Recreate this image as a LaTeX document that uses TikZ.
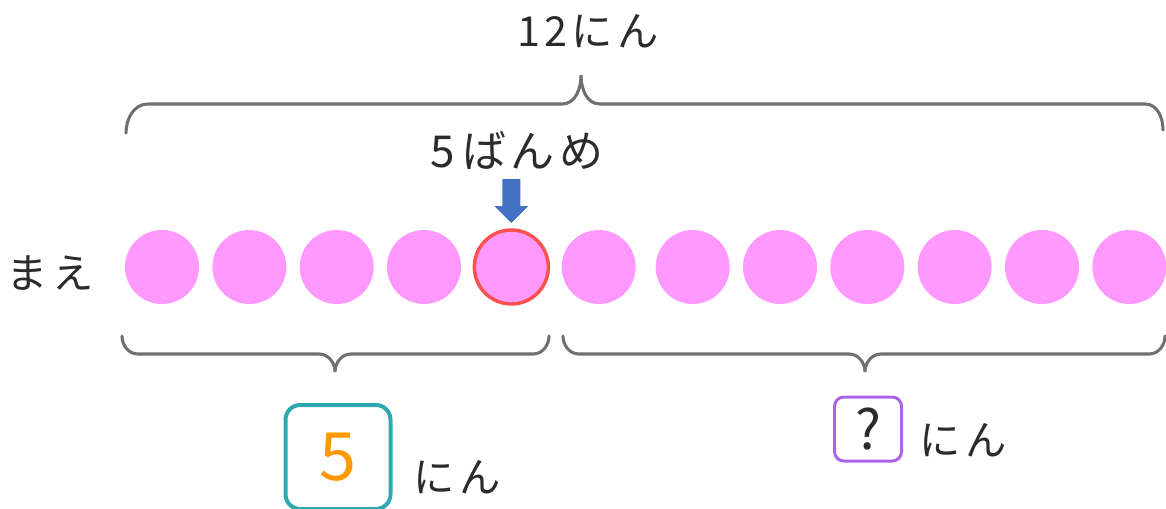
\documentclass[tikz,border=0pt]{standalone}
\usepackage{fontspec}
\setmainfont[LetterSpace=10]{Noto Sans CJK JP}
\usetikzlibrary{positioning, calc}
\definecolor{ink}{HTML}{2B2B2B}
\definecolor{ballpink}{HTML}{FF99FF}
\definecolor{markred}{HTML}{FF5050}
\definecolor{bracegray}{HTML}{707070}
\definecolor{pointblue}{HTML}{4472C4}
\definecolor{boxteal}{HTML}{2FA9B1}
\definecolor{boxpurple}{HTML}{AC63EA}
\definecolor{numorange}{HTML}{FF9900}
\tikzset{
  ball/.style={circle, fill=ballpink, minimum size=55.5pt, inner sep=0pt,
               outer sep=0pt},
  word/.style={font=\fontsize{31}{36}\selectfont, text=ink, inner sep=0pt},
  brace/.style={draw=bracegray, line width=2.3pt, line cap=round},
  answer/.style={rectangle, draw, line width=3pt, inner sep=0pt, align=center}
}

\begin{document}
\begin{tikzpicture}[x=0.75pt, y=0.75pt, node distance=10pt]
    \clip (0,0) rectangle (1166,508);

    % the row
    \node[ball] (c1) at (162,241) {};
    \node[ball, right=of c1] (c2) {};
    \node[ball, right=of c2] (c3) {};
    \node[ball, right=of c3] (c4) {};
    \node[ball, right=of c4, draw=markred, line width=2.6pt] (c5) {};
    \node[ball, right=of c5] (c6) {};
    \node[ball, right=15pt of c6] (c7) {};
    \node[ball, right=of c7] (c8) {};
    \node[ball, right=of c8] (c9) {};
    \node[ball, right=of c9] (c10) {};
    \node[ball, right=of c10] (c11) {};
    \node[ball, right=of c11] (c12) {};

    \node[word] (mae) at (50,235) {まえ};

    % braces
    \draw[brace] (126,375) to[out=90,in=180] (148,404) -- (562,404)
        to[out=0,in=-90] (581,433) to[out=-90,in=180] (600,404)
        -- (1145,404) to[out=0,in=90] (1163,378);
    \draw[brace] (122,172) to[out=-90,in=180] (138,154) -- (319,154)
        to[out=0,in=90] (335,136) to[out=90,in=180] (351,154)
        -- (533,154) to[out=0,in=-90] (549,172);
    \draw[brace] (563,172) to[out=-90,in=180] (579,154) -- (849,154)
        to[out=0,in=90] (865,136) to[out=90,in=180] (881,154)
        -- (1149,154) to[out=0,in=-90] (1165,172);

    \node[word] (total) at (588,477) {12にん};
    \node[word, font=\fontsize{33}{38}\selectfont] (fifth) at (517,358) {5\,ばんめ};

    % pointer onto the fifth one
    \fill[pointblue] ($(c5.north)+(0,7)$) -- ++(-17,17) -- ++(8,0) -- ++(0,27)
        -- ++(18,0) -- ++(0,-27) -- ++(8,0) -- cycle;

    % answers
    \node[answer, draw=boxteal, rounded corners=11pt, minimum width=78.75pt,
          minimum height=78pt, text=numorange,
          font=\fontsize{50}{54}\selectfont] (front) at (338,51) {5};
    \node[word] (frontunit) at (457,31) {にん};
    \node[answer, draw=boxpurple, line width=2.25pt, rounded corners=7pt,
          minimum width=50.25pt, minimum height=48pt, text=ink,
          font=\fontsize{41}{45}\selectfont] (back) at (868,79) {?};
    \node[word] (backunit) at (963,68) {にん};
\end{tikzpicture}
\end{document}
